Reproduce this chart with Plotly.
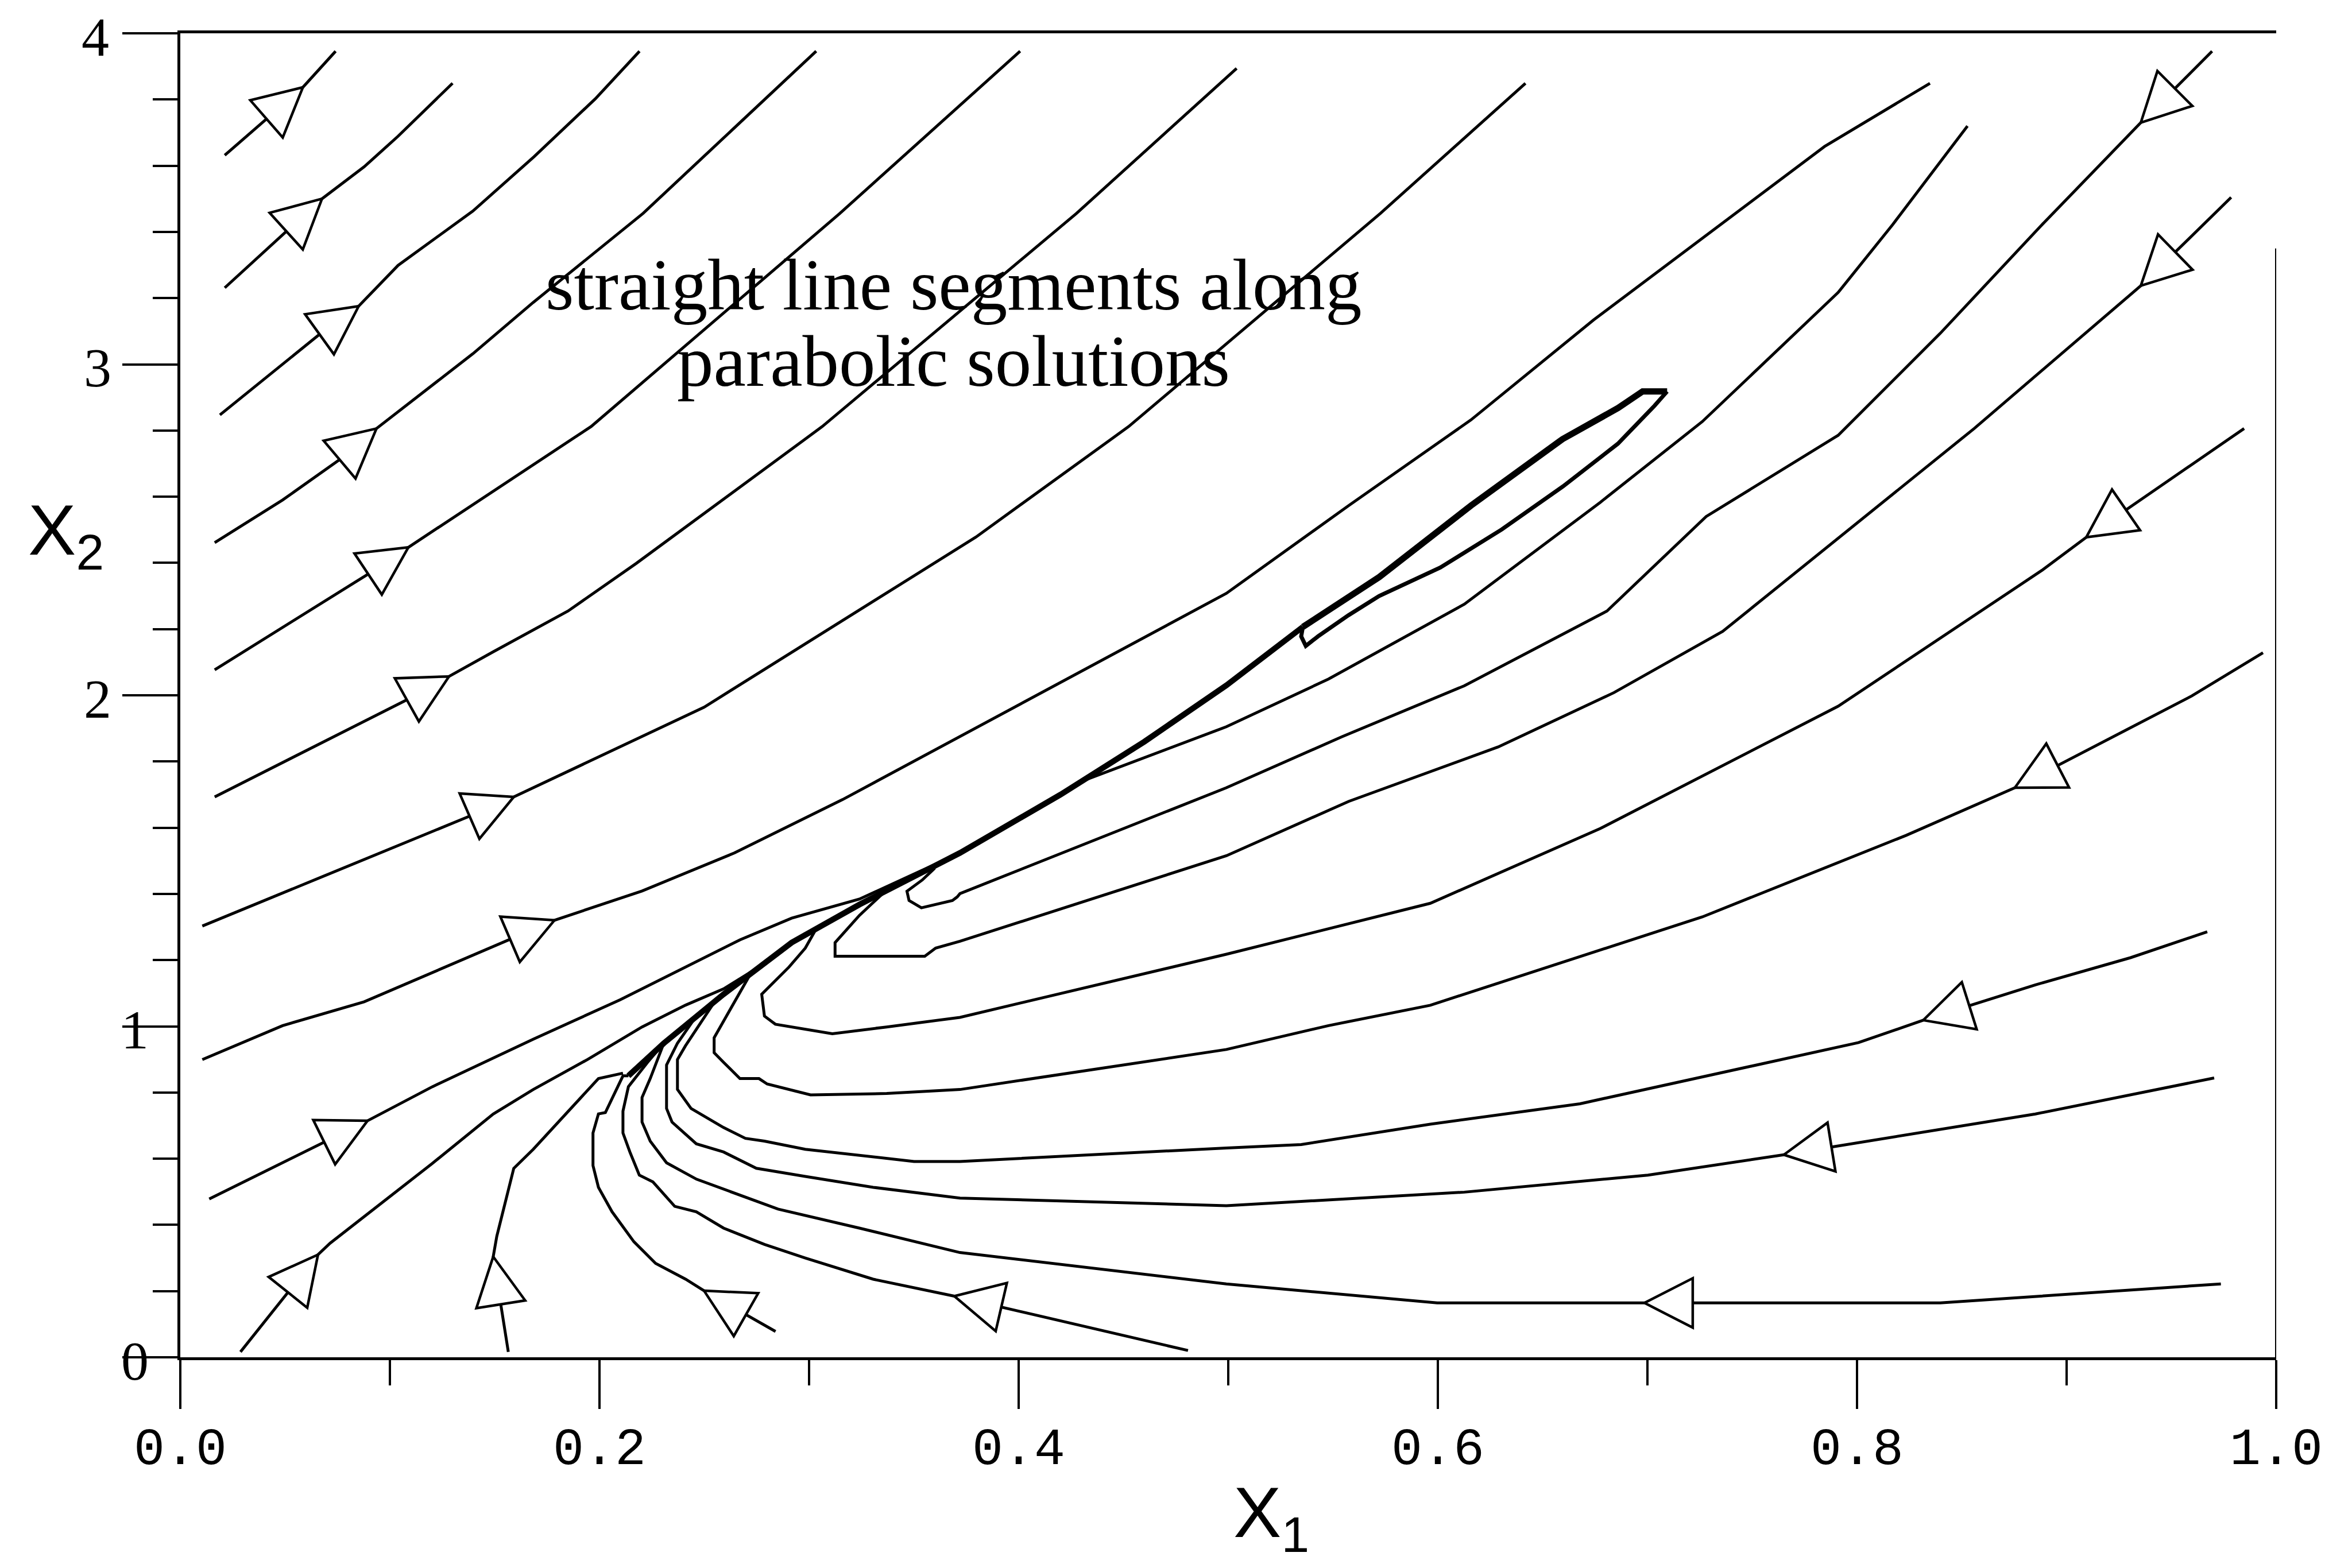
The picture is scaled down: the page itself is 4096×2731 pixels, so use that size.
import math
import plotly.graph_objects as go

# ---------------------------------------------------------------
# Phase-plane trajectories (x1, x2); every list is in flow order.
# ---------------------------------------------------------------
L1_x1 = [0.0212, 0.0585, 0.0741]
L1_x2 = [3.6315, 3.837, 3.9457]
L2_x1 = [0.0212, 0.0504, 0.0676, 0.0877, 0.1039, 0.1299]
L2_x2 = [3.2311, 3.4015, 3.5001, 3.5966, 3.689, 3.8492]
L3_x1 = [0.0189, 0.0472, 0.0666, 0.0851, 0.1039, 0.1396, 0.1688, 0.1980, 0.2191]
L3_x2 = [2.8471, 2.9909, 3.0915, 3.1757, 3.2989, 3.4631, 3.6274, 3.802, 3.9457]
L4_x1 = [0.0164, 0.0488, 0.0760, 0.0936, 0.1396, 0.1684, 0.2208, 0.2620, 0.3034]
L4_x2 = [2.461, 2.590, 2.712, 2.806, 3.032, 3.187, 3.456, 3.700, 3.946]
L5_x1 = [0.0164, 0.0893, 0.1088, 0.196, 0.3147, 0.4007]
L5_x2 = [2.077, 2.365, 2.447, 2.812, 3.456, 3.946]
L6_x1 = [0.0164, 0.1095, 0.1282, 0.1493, 0.185, 0.2175, 0.3063, 0.4276, 0.504]
L6_x2 = [1.693, 1.991, 2.057, 2.1314, 2.2546, 2.3983, 2.812, 3.456, 3.894]
L7_x1 = [0.0105, 0.1377, 0.1591, 0.2499, 0.3796, 0.4525, 0.5726, 0.6418]
L7_x2 = [1.303, 1.634, 1.693, 1.964, 2.478, 2.812, 3.456, 3.849]
L8_x1 = [0.0105, 0.0488, 0.0877, 0.1785, 0.2203, 0.2644, 0.316, 0.4991, 0.5574,
         0.6158, 0.6743, 0.7845, 0.8348]
L8_x2 = [0.8993, 1.002, 1.0739, 1.3203, 1.4088, 1.5238, 1.685, 2.308, 2.573,
         2.832, 3.134, 3.658, 3.849]
L9_x1 = [0.0138, 0.0893, 0.1202, 0.1684, 0.2099, 0.2411, 0.267, 0.2917, 0.324, 0.372]
L9_x2 = [0.4784, 0.7145, 0.8172, 0.961, 1.0803, 1.1788, 1.261, 1.3267, 1.3842, 1.5238]
L10_x1 = [0.0287, 0.0657, 0.0715, 0.1201, 0.1493, 0.1684, 0.1944, 0.2203, 0.2411,
          0.2592, 0.275]
L10_x2 = [0.0163, 0.3101, 0.3448, 0.585, 0.735, 0.809, 0.90, 0.998, 1.064,
          1.1131, 1.175]
L11_x1 = [0.1565, 0.1493, 0.151, 0.1591, 0.1684, 0.1814, 0.1995, 0.2112]
L11_x2 = [0.0163, 0.304, 0.3655, 0.5708, 0.6285, 0.7189, 0.8421, 0.8585]
L12_x1 = [0.284, 0.2499, 0.2411, 0.2268, 0.2164, 0.206, 0.1995, 0.1969, 0.1969,
          0.1995, 0.2028, 0.2112, 0.2138]
L12_x2 = [0.078, 0.201, 0.236, 0.2836, 0.3493, 0.4396, 0.5135, 0.5793, 0.6778,
          0.7353, 0.7394, 0.8503, 0.8503]
L13_x1 = [0.4808, 0.3693, 0.3306, 0.2982, 0.2787, 0.2592, 0.2462, 0.2359, 0.2255,
          0.219, 0.2145, 0.2112, 0.2112, 0.2138, 0.2229, 0.2307]
L13_x2 = [0.0205, 0.1847, 0.2359, 0.2999, 0.341, 0.3903, 0.4396, 0.456, 0.5299,
          0.5505, 0.6203, 0.6778, 0.7435, 0.8175, 0.891, 0.9489]

R1_x1 = [0.9694, 0.9354, 0.8883, 0.8397, 0.7910, 0.728, 0.6807, 0.6126, 0.5542,
         0.4991, 0.372, 0.3707, 0.3684, 0.3536, 0.3477, 0.3467, 0.354, 0.36]
R1_x2 = [3.9457, 3.7301, 3.4221, 3.0935, 2.7855, 2.54, 2.2546, 2.0287, 1.8747,
         1.7207, 1.401, 1.391, 1.380, 1.358, 1.380, 1.408, 1.442, 1.478]
R2_x1 = [0.9785, 0.9354, 0.8559, 0.7359, 0.684, 0.6288, 0.5575, 0.4991, 0.372,
         0.3604, 0.3552, 0.3124, 0.3124, 0.324, 0.335]
R2_x2 = [3.5042, 3.2373, 2.806, 2.193, 2.008, 1.844, 1.6796, 1.5153, 1.257,
         1.2363, 1.2117, 1.2117, 1.2528, 1.3349, 1.40]
R3_x1 = [0.9847, 0.9094, 0.8883, 0.7910, 0.6775, 0.5964, 0.4991, 0.372, 0.337,
         0.3111, 0.2839, 0.2787, 0.2774, 0.2787, 0.2904, 0.2982, 0.303]
R3_x2 = [2.806, 2.4776, 2.3778, 1.967, 1.5975, 1.3716, 1.2176, 1.027, 0.998,
         0.9776, 1.0063, 1.031, 1.0967, 1.1049, 1.1788, 1.2363, 1.29]
R4_x1 = [0.9937, 0.9597, 0.8753, 0.8235, 0.7262, 0.5964, 0.5478, 0.4991, 0.372,
         0.337, 0.3007, 0.28, 0.2761, 0.267, 0.2592, 0.2547, 0.2547, 0.2592,
         0.2631, 0.272]
R4_x2 = [2.1284, 1.998, 1.7207, 1.577, 1.3305, 1.0636, 1.002, 0.930, 0.809,
         0.7969, 0.7928, 0.8257, 0.842, 0.842, 0.8913, 0.9201, 0.9653, 1.0145,
         1.0597, 1.158]
R5_x1 = [0.9671, 0.9305, 0.8851, 0.8316, 0.8007, 0.7262, 0.6678, 0.5964, 0.5348,
         0.4991, 0.372, 0.3501, 0.2982, 0.2787, 0.2696, 0.2592, 0.2437, 0.2372,
         0.2372, 0.241, 0.2462, 0.255]
R5_x2 = [1.2854, 1.2073, 1.1252, 1.0184, 0.9507, 0.848, 0.7659, 0.7043, 0.6427,
         0.6324, 0.5916, 0.5916, 0.6285, 0.6532, 0.6614, 0.6942, 0.7517, 0.8092,
         0.8995, 0.9407, 0.9899, 1.075]
R6_x1 = [0.9704, 0.8851, 0.7651, 0.7002, 0.6126, 0.4991, 0.372, 0.3306, 0.2982,
         0.2748, 0.2592, 0.2462, 0.2346, 0.232, 0.232, 0.2372, 0.245]
R6_x2 = [0.8439, 0.735, 0.6119, 0.5503, 0.4989, 0.4579, 0.481, 0.5135, 0.5464,
         0.571, 0.6203, 0.645, 0.7107, 0.7517, 0.8831, 0.9489, 1.02]
R7_x1 = [0.9736, 0.8397, 0.6986, 0.5997, 0.4991, 0.372, 0.324, 0.2852, 0.2463,
         0.232, 0.2242, 0.2203, 0.2203, 0.2242, 0.2307]
R7_x2 = [0.2217, 0.1642, 0.1642, 0.1642, 0.2217, 0.3164, 0.3903, 0.4478, 0.538,
         0.5875, 0.6532, 0.7107, 0.785, 0.842, 0.9489]
T3_x1 = [0.8527, 0.817, 0.791, 0.7262, 0.6775, 0.6126, 0.5478, 0.4991, 0.43]
T3_x2 = [3.72, 3.422, 3.217, 2.827, 2.583, 2.275, 2.049, 1.905, 1.74]

# common path the trajectories collapse onto (parabolic solution)
SPINE_x1 = [0.2138, 0.2307, 0.2592, 0.2917, 0.324, 0.372, 0.42, 0.46, 0.4991, 0.5356]
SPINE_x2 = [0.8503, 0.9489, 1.0967, 1.2528, 1.3677, 1.5238, 1.70, 1.86, 2.03, 2.2066]
LOOP_UP_x1 = [0.5356, 0.572, 0.6158, 0.6595, 0.686, 0.6977, 0.7094]
LOOP_UP_x2 = [2.2066, 2.357, 2.573, 2.774, 2.868, 2.918, 2.918]
LOOP_LO_x1 = [0.7094, 0.7034, 0.6859, 0.6597, 0.6305, 0.6012, 0.572, 0.5574,
              0.5428, 0.537, 0.5348, 0.5356]
LOOP_LO_x2 = [2.918, 2.875, 2.760, 2.631, 2.501, 2.386, 2.30, 2.242,
              2.178, 2.149, 2.178, 2.2066]

# (x1, x2) of each direction arrow's tip
ARROW_TIPS = {
    "L1": (0.0585, 3.837), "L2": (0.0676, 3.5001), "L3": (0.0851, 3.1757),
    "L4": (0.0936, 2.806), "L5": (0.1088, 2.447), "L6": (0.1282, 2.057),
    "L7": (0.1591, 1.693), "L8": (0.1785, 1.3203), "L9": (0.0893, 0.7145),
    "L10": (0.0657, 0.3101), "L11": (0.1493, 0.304), "L12": (0.2499, 0.201),
    "L13": (0.3693, 0.1847),
    "R1": (0.9354, 3.7301), "R2": (0.9354, 3.2373), "R3": (0.9094, 2.4776),
    "R4": (0.8753, 1.7207), "R5": (0.8316, 1.0184), "R6": (0.7651, 0.6119),
    "R7": (0.6986, 0.1642),
}

X_TICKS = [0.0, 0.2, 0.4, 0.6, 0.8, 1.0]
X_TICK_TEXT = ["0.0", "0.2", "0.4", "0.6", "0.8", "1.0"]
X_MINOR = [0.1, 0.3, 0.5, 0.7, 0.9]
Y_TICKS = [0, 1, 2, 3, 4]
Y_TICK_TEXT = ["0", "1", "2", "3", "4"]
Y_MINOR = [0.2, 0.4, 0.6, 0.8, 1.2, 1.4, 1.6, 1.8, 2.2, 2.4, 2.6, 2.8,
           3.2, 3.4, 3.6, 3.8]
# right edge (paper units) of each y tick label, in Y_TICKS order
Y_LABEL_RIGHT = [-0.0145, -0.0145, -0.0323, -0.0323, -0.0335]

TRAJECTORIES = {
    "L1": (L1_x1, L1_x2), "L2": (L2_x1, L2_x2), "L3": (L3_x1, L3_x2),
    "L4": (L4_x1, L4_x2), "L5": (L5_x1, L5_x2), "L6": (L6_x1, L6_x2),
    "L7": (L7_x1, L7_x2), "L8": (L8_x1, L8_x2), "L9": (L9_x1, L9_x2),
    "L10": (L10_x1, L10_x2), "L11": (L11_x1, L11_x2), "L12": (L12_x1, L12_x2),
    "L13": (L13_x1, L13_x2),
    "R1": (R1_x1, R1_x2), "R2": (R2_x1, R2_x2), "R3": (R3_x1, R3_x2),
    "R4": (R4_x1, R4_x2), "R5": (R5_x1, R5_x2), "R6": (R6_x1, R6_x2),
    "R7": (R7_x1, R7_x2), "T3": (T3_x1, T3_x2),
}

# ---------------------------------------------------------------
# page geometry
# ---------------------------------------------------------------
W, H = 4096, 2731
M_L, M_R, M_T, M_B = 314, 132, 58, 367
PLOT_W = W - M_L - M_R
PLOT_H = H - M_T - M_B
X_RANGE = (0.0, 1.0)
Y_RANGE = (0.0, 4.0)
PX_X = PLOT_W / (X_RANGE[1] - X_RANGE[0])
PX_Y = PLOT_H / (Y_RANGE[1] - Y_RANGE[0])

LINE_W = 5
ARROW_LEN = 84   # px, tip to base
ARROW_BASE = 86  # px, base width

fig = go.Figure()


def add_path(xs, ys, width):
    fig.add_trace(go.Scatter(
        x=xs, y=ys, mode="lines",
        line=dict(color="black", width=width),
        hoverinfo="skip", showlegend=False,
    ))


for name, (xs, ys) in TRAJECTORIES.items():
    add_path(xs, ys, LINE_W)

add_path(SPINE_x1, SPINE_x2, 10)
add_path(LOOP_UP_x1, LOOP_UP_x2, 11)
add_path(LOOP_LO_x1, LOOP_LO_x2, 7)


def arrow_head(xs, ys, tip):
    """Open triangle pointing along the flow, tip on the trajectory."""
    i = min(range(1, len(xs)),
            key=lambda k: (xs[k] - tip[0]) ** 2 + ((ys[k] - tip[1]) / 4) ** 2)
    tx, ty = xs[i], ys[i]
    dx = (tx - xs[i - 1]) * PX_X
    dy = (ty - ys[i - 1]) * PX_Y
    n = math.hypot(dx, dy)
    ux, uy = dx / n, dy / n
    cx = tx * PX_X - ARROW_LEN * ux
    cy = ty * PX_Y - ARROW_LEN * uy
    nx, ny = -uy, ux
    h = ARROW_BASE / 2
    px = [tx, (cx + h * nx) / PX_X, (cx - h * nx) / PX_X, tx]
    py = [ty, (cy + h * ny) / PX_Y, (cy - h * ny) / PX_Y, ty]
    return px, py


for name, tip in ARROW_TIPS.items():
    xs, ys = TRAJECTORIES[name]
    px, py = arrow_head(xs, ys, tip)
    fig.add_trace(go.Scatter(
        x=px, y=py, mode="lines", fill="toself", fillcolor="white",
        line=dict(color="black", width=4.5),
        hoverinfo="skip", showlegend=False,
    ))

annotations = [
    dict(text="X<sub>1</sub>", xref="paper", yref="paper",
         x=0.5019, y=-0.086, xanchor="left", yanchor="top", showarrow=False,
         font=dict(family="Liberation Sans", size=125, color="black")),
    dict(text="X<sub>2</sub>", xref="paper", yref="paper",
         x=-0.0732, y=0.656, xanchor="left", yanchor="top", showarrow=False,
         font=dict(family="Liberation Sans", size=125, color="black")),
    dict(text="straight line segments along", xref="paper", yref="paper",
         x=0.369, y=0.7788, xanchor="center", yanchor="bottom", showarrow=False,
         font=dict(family="Liberation Serif", size=127, color="black")),
    dict(text="parabolic solutions", xref="paper", yref="paper",
         x=0.369, y=0.7212, xanchor="center", yanchor="bottom", showarrow=False,
         font=dict(family="Liberation Serif", size=127, color="black")),
]
for val, txt, xr in zip(Y_TICKS, Y_TICK_TEXT, Y_LABEL_RIGHT):
    annotations.append(dict(
        text=txt, xref="paper", yref="y", x=xr, y=val,
        xanchor="right", yanchor="middle", yshift=-6, showarrow=False,
        font=dict(family="Liberation Serif", size=96, color="black")))

fig.update_layout(
    width=W, height=H,
    margin=dict(l=M_L, r=M_R, t=M_T, b=M_B, autoexpand=False),
    paper_bgcolor="white", plot_bgcolor="white",
    xaxis=dict(
        range=list(X_RANGE), showgrid=False, zeroline=False,
        showline=True, linecolor="black", linewidth=5, mirror=True,
        tickmode="array", tickvals=X_TICKS, ticktext=X_TICK_TEXT,
        ticks="outside", ticklen=85, tickwidth=4, tickcolor="black",
        ticklabelstandoff=-12,
        tickfont=dict(family="Liberation Mono", size=90, color="black"),
        minor=dict(tickmode="array", tickvals=X_MINOR, ticks="outside",
                   ticklen=44, tickwidth=4, tickcolor="black"),
    ),
    yaxis=dict(
        range=list(Y_RANGE), showgrid=False, zeroline=False,
        showline=True, linecolor="black", linewidth=5,
        tickmode="array", tickvals=Y_TICKS, showticklabels=False,
        ticks="outside", ticklen=96, tickwidth=4, tickcolor="black",
        minor=dict(tickmode="array", tickvals=Y_MINOR, ticks="outside",
                   ticklen=43, tickwidth=4, tickcolor="black"),
    ),
    shapes=[dict(type="line", xref="x", yref="y", x0=1, x1=1, y0=0, y1=3.35,
                 line=dict(color="black", width=4))],
    annotations=annotations,
)

fig.write_html("out.html")
